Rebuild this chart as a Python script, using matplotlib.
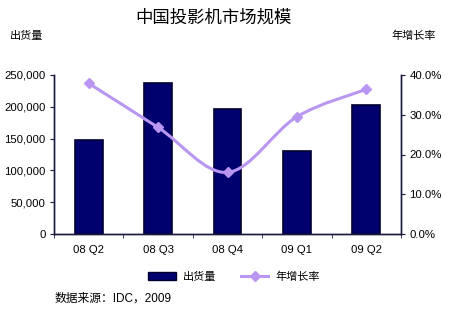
import matplotlib.pyplot as plt
from matplotlib.path import Path
from matplotlib.patches import PathPatch
from matplotlib.lines import Line2D
from matplotlib.patches import Patch
import numpy as np

plt.rcParams['font.family'] = ['Liberation Sans', 'Noto Sans CJK SC']

quarters = ['08 Q2', '08 Q3', '08 Q4', '09 Q1', '09 Q2']
shipments = [148000, 238000, 196000, 130000, 203000]
growth = [37.9, 26.8, 15.5, 29.5, 36.4]

bar_color = '#00006E'
bar_edge = '#000030'
line_color = '#B996F2'
axis_color = '#1a1a40'

fig = plt.figure(figsize=(4.53, 3.19), dpi=100)
ax = fig.add_axes([54 / 453, 1 - 234 / 319, (401 - 54) / 453, (234 - 75) / 319])
ax2 = ax.twinx()

x = np.arange(len(quarters))
ax.bar(x, shipments, width=0.4, color=bar_color, edgecolor=bar_edge, linewidth=1.2, zorder=2)
ax.set_xlim(-0.5, len(quarters) - 0.5)
ax.set_ylim(0, 250000)
ax.set_yticks(range(0, 250001, 50000))
ax.set_yticklabels([f'{v:,}' for v in range(0, 250001, 50000)], fontsize=8.2)
ax.set_xticks(x)
ax.set_xticklabels(quarters, fontsize=8.2)
ax.tick_params(axis='x', length=0, pad=8)
ax.set_xticks(np.arange(-0.5, len(quarters), 1.0), minor=True)
ax.tick_params(axis='x', which='minor', length=3, color=axis_color, direction='out')
ax.tick_params(axis='y', length=3, color=axis_color, pad=3)

# smoothed line (Bezier through the data points, like Excel's smoothed line)
pts = np.column_stack([x, growth]).astype(float)
ext = np.vstack([pts[0], pts, pts[-1]])
verts = [tuple(pts[0])]
codes = [Path.MOVETO]
for i in range(len(pts) - 1):
    p0, p1, p2, p3 = ext[i], ext[i + 1], ext[i + 2], ext[i + 3]
    c1 = p1 + (p2 - p0) / 6
    c2 = p2 - (p3 - p1) / 6
    verts += [tuple(c1), tuple(c2), tuple(p2)]
    codes += [Path.CURVE4] * 3
ax2.add_patch(PathPatch(Path(verts, codes), fill=False, edgecolor=line_color, lw=2.2, zorder=3))
ax2.plot(x, growth, linestyle='none', marker='D', markersize=5, color=line_color, zorder=4)
ax2.set_ylim(0, 40)
ax2.set_yticks(range(0, 41, 10))
ax2.set_yticklabels([f'{v:.1f}%' for v in range(0, 41, 10)], fontsize=8.2)
ax2.tick_params(axis='y', length=3, color=axis_color, pad=3)

for a in (ax, ax2):
    a.spines['top'].set_visible(False)
    for s in ('left', 'right', 'bottom'):
        a.spines[s].set_color(axis_color)
        a.spines[s].set_linewidth(1.0)

fig.text(213 / 453, 1 - 17 / 319, '中国投影机市场规模', ha='center', va='center', fontsize=12.5)
fig.text(10 / 453, 1 - 36 / 319, '出货量', ha='left', va='center', fontsize=8)
fig.text(436 / 453, 1 - 36 / 319, '年增长率', ha='right', va='center', fontsize=8)
fig.text(55 / 453, 1 - 299 / 319, '数据来源：IDC，2009', ha='left', va='center', fontsize=8.5)

handles = [Patch(facecolor=bar_color, edgecolor=bar_edge),
           Line2D([], [], color=line_color, lw=2.2, marker='D', markersize=5)]
fig.legend(handles, ['出货量', '年增长率'], loc='center', bbox_to_anchor=(234 / 453, 1 - 277 / 319),
           ncol=2, frameon=False, fontsize=8, handlelength=2.5, columnspacing=2.2, handletextpad=0.6)

fig.savefig('out.png', dpi=100, facecolor='white')
